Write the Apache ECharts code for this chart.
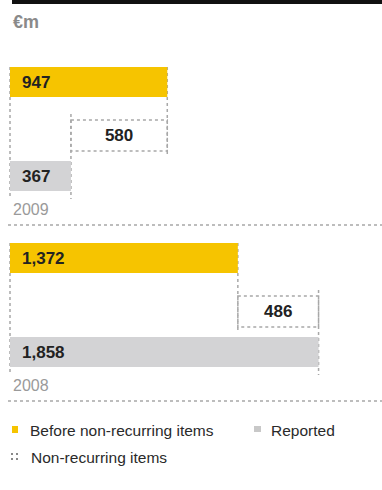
<!DOCTYPE html>
<html><head><meta charset="utf-8">
<script src="https://cdn.jsdelivr.net/npm/echarts@6/dist/echarts.min.js"></script>
<style>html,body{margin:0;padding:0;background:#fff}#c{width:382px;height:490px}</style>
</head><body><div id="c"></div>
<script>
// ---- data ----
const years = ['2009', '2008'];
const beforeNonRecurring = [947, 1372];
const reported = [367, 1858];
const nonRecurring = [580, 486];
const seriesNames = ['Before non-recurring items', 'Reported', 'Non-recurring items'];
const unitLabel = '€m';

// ---- styles ----
const YELLOW = '#F6C400';
const GREY = '#D3D3D5';
const DASH = '#a8a8a8';
const FONT = '"Liberation Sans", Arial, sans-serif';
const fmt = v => Number(v).toLocaleString('en-US');

function band(api, idx) {
  const c = api.coord([0, idx]);
  const h = api.size([0, 1])[1];
  return { x0: c[0], top: c[1] - h / 2, h: h };
}
function valueLabel(text, x, y, align) {
  return { type: 'text', style: { text: text, x: x, y: y, align: align || 'left', verticalAlign: 'middle',
    font: 'bold 17px ' + FONT, fill: '#222' } };
}
function dashLine(x1, y1, x2, y2) {
  return { type: 'line', shape: { x1: x1, y1: y1, x2: x2, y2: y2 },
    style: { stroke: DASH, lineWidth: 1.5, lineDash: [3, 3] } };
}

const beforeData = years.map((y, i) => [beforeNonRecurring[i], i]);
const reportedData = years.map((y, i) => [reported[i], i]);
const nonRecData = years.map((y, i) => [Math.min(beforeNonRecurring[i], reported[i]), i, nonRecurring[i]]);
const decoData = years.map((y, i) => [beforeNonRecurring[i], i, reported[i]]);

const chart = echarts.init(document.getElementById('c'), null, { renderer: 'svg' });
chart.setOption({
  animation: false,
  backgroundColor: '#fff',
  grid: { left: 10, right: 0, top: 49, height: 352 },
  xAxis: { type: 'value', min: 0, max: 2240, show: false },
  yAxis: { type: 'category', data: years, inverse: true, show: false },
  graphic: [
    { type: 'rect', shape: { x: 12, y: 0, width: 370, height: 4 }, style: { fill: '#111' } },
    { type: 'text', style: { text: unitLabel, x: 13, y: 22, verticalAlign: 'middle', font: 'bold 18px ' + FONT, fill: '#8a8a8a' } },
    { type: 'rect', shape: { x: 12, y: 426, width: 6, height: 7 }, style: { fill: YELLOW } },
    { type: 'text', style: { text: seriesNames[0], x: 30, y: 430, verticalAlign: 'middle', font: '15.5px ' + FONT, fill: '#2a2a2a' } },
    { type: 'rect', shape: { x: 254, y: 426, width: 7, height: 6 }, style: { fill: '#c8c8c8' } },
    { type: 'text', style: { text: seriesNames[1], x: 271, y: 430, verticalAlign: 'middle', font: '15.5px ' + FONT, fill: '#2a2a2a' } },
    { type: 'rect', shape: { x: 11, y: 453, width: 2, height: 2 }, style: { fill: '#888' } },
    { type: 'rect', shape: { x: 11, y: 458, width: 2, height: 2 }, style: { fill: '#888' } },
    { type: 'rect', shape: { x: 16, y: 453, width: 2, height: 2 }, style: { fill: '#888' } },
    { type: 'rect', shape: { x: 16, y: 458, width: 2, height: 2 }, style: { fill: '#888' } },
    { type: 'text', style: { text: seriesNames[2], x: 31, y: 457, verticalAlign: 'middle', font: '15.5px ' + FONT, fill: '#2a2a2a' } }
  ],
  series: [
    {
      name: 'connectors', type: 'custom', clip: false, silent: true, z: 1,
      data: decoData,
      renderItem: function (params, api) {
        const idx = api.value(1);
        const b = band(api, idx);
        const xb = api.coord([api.value(0), idx])[0];
        const xr = api.coord([api.value(2), idx])[0];
        return { type: 'group', children: [
          dashLine(b.x0, b.top + 18, b.x0, b.top + 150),
          dashLine(xb, b.top + 18, xb, b.top + 108),
          dashLine(xr, b.top + 65, xr, b.top + 150),
          dashLine(8, b.top + 176, 382, b.top + 176),
          { type: 'text', style: { text: years[idx], x: b.x0 + 3, y: b.top + 160, verticalAlign: 'middle',
            font: '16px ' + FONT, fill: '#9a9a9a' } }
        ] };
      }
    },
    {
      name: seriesNames[0], type: 'custom', clip: false, z: 2,
      data: beforeData,
      renderItem: function (params, api) {
        const idx = api.value(1), v = api.value(0);
        const b = band(api, idx);
        const x1 = api.coord([v, idx])[0];
        return { type: 'group', children: [
          { type: 'rect', shape: { x: b.x0, y: b.top + 18, width: x1 - b.x0, height: 30 }, style: { fill: YELLOW } },
          valueLabel(fmt(v), b.x0 + 12, b.top + 33)
        ] };
      }
    },
    {
      name: seriesNames[1], type: 'custom', clip: false, z: 2,
      data: reportedData,
      renderItem: function (params, api) {
        const idx = api.value(1), v = api.value(0);
        const b = band(api, idx);
        const x1 = api.coord([v, idx])[0];
        return { type: 'group', children: [
          { type: 'rect', shape: { x: b.x0, y: b.top + 112, width: x1 - b.x0, height: 30 }, style: { fill: GREY } },
          valueLabel(fmt(v), b.x0 + 12, b.top + 127)
        ] };
      }
    },
    {
      name: seriesNames[2], type: 'custom', clip: false, z: 2,
      data: nonRecData,
      renderItem: function (params, api) {
        const idx = api.value(1), lo = api.value(0), len = api.value(2);
        const b = band(api, idx);
        const xa = api.coord([lo, idx])[0];
        const xz = api.coord([lo + len, idx])[0];
        return { type: 'group', children: [
          { type: 'rect', shape: { x: xa, y: b.top + 71, width: xz - xa, height: 31 },
            style: { fill: 'none', stroke: DASH, lineWidth: 1.5, lineDash: [3, 3] } },
          valueLabel(fmt(len), (xa + xz) / 2, b.top + 86.5, 'center')
        ] };
      }
    }
  ]
});
</script>
</body></html>
